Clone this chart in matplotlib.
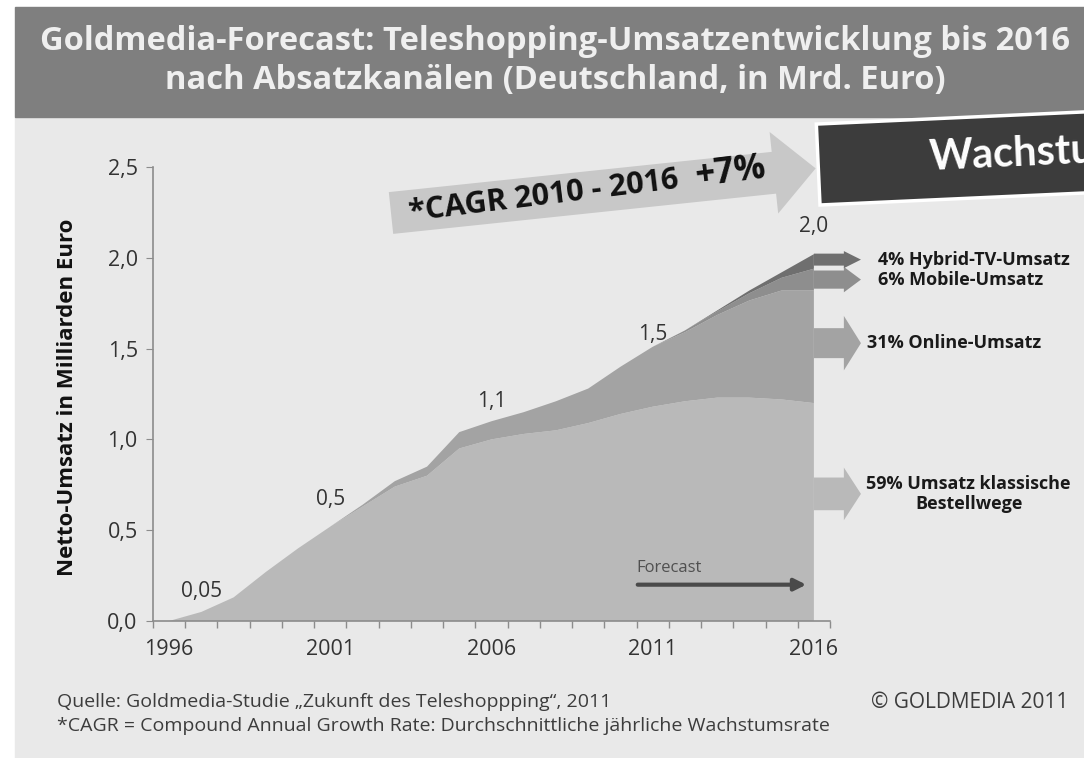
import matplotlib
matplotlib.use("Agg")
import matplotlib.pyplot as plt
from matplotlib.patches import Rectangle, Polygon
import numpy as np

plt.rcParams['font.family'] = ['Open Sans', 'DejaVu Sans']

# Umsatz in Mrd. Euro, gestapelt nach Absatzkanal
years = list(range(1996, 2017))
klassisch = [0.0, 0.05, 0.13, 0.27, 0.40, 0.52, 0.63, 0.74, 0.80, 0.95, 1.00,
             1.03, 1.05, 1.09, 1.14, 1.18, 1.21, 1.23, 1.23, 1.22, 1.20]
online = [0.0, 0.0, 0.0, 0.0, 0.0, 0.0, 0.01, 0.03, 0.05, 0.09, 0.10,
          0.12, 0.16, 0.19, 0.26, 0.33, 0.38, 0.455, 0.535, 0.60, 0.62]
mobile = [0.0, 0.0, 0.0, 0.0, 0.0, 0.0, 0.0, 0.0, 0.0, 0.0, 0.0,
          0.0, 0.0, 0.0, 0.0, 0.0, 0.01, 0.02, 0.04, 0.07, 0.12]
hybrid = [0.0, 0.0, 0.0, 0.0, 0.0, 0.0, 0.0, 0.0, 0.0, 0.0, 0.0,
          0.0, 0.0, 0.0, 0.0, 0.0, 0.0, 0.005, 0.015, 0.03, 0.08]
layer_colors = ["#b9b9b9", "#a3a3a3", "#8e8e8e", "#6f6f6f"]

value_label_years = [1997, 2001, 2006, 2011, 2016]
value_label_texts = ["0,05", "0,5", "1,1", "1,5", "2,0"]
value_label_lift = [0.11, 0.15, 0.11, 0.07, 0.15]

share_texts = ["59% Umsatz klassische\nBestellwege", "31% Online-Umsatz",
               "6% Mobile-Umsatz", "4% Hybrid-TV-Umsatz"]
share_arrow_y = [0.70, 1.53, 1.88, 1.99]
share_shaft = [0.18, 0.165, 0.10, 0.066]
share_head = [0.29, 0.30, 0.14, 0.094]
share_text_x = [2020.8, 2017.65, 2017.98, 2017.98]
share_text_ha = ["center", "left", "left", "left"]

fig = plt.figure(figsize=(10.84, 7.58), dpi=100)
fig.patch.set_facecolor("white")

# background layer in pixel coordinates
bg = fig.add_axes([0, 0, 1, 1], zorder=0)
bg.set_xlim(0, 1084)
bg.set_ylim(758, 0)
bg.axis("off")
bg.add_patch(Rectangle((15, 117), 1069, 641, color="#e9e9e9"))
bg.add_patch(Rectangle((15, 7), 1069, 110, color="#7f7f7f"))

# main chart
ax = fig.add_axes([153 / 1084, 1 - 621 / 758, 677 / 1084, 454 / 758], zorder=1)
ax.patch.set_alpha(0)
ax.stackplot(years, klassisch, online, mobile, hybrid, colors=layer_colors, linewidth=0)
ax.set_xlim(1995.5, 2016.5)
ax.set_ylim(0, 2.5)
for s in ["top", "right"]:
    ax.spines[s].set_visible(False)
for s in ["left", "bottom"]:
    ax.spines[s].set_color("#8c8c8c")
    ax.spines[s].set_linewidth(1.2)

yt = np.arange(0, 2.51, 0.5)
ax.set_yticks(yt)
ax.set_yticklabels([f"{v:.1f}".replace(".", ",") for v in yt])
ax.set_xticks([1996, 2001, 2006, 2011, 2016])
ax.set_xticks(np.arange(1995.5, 2017, 1), minor=True)
ax.tick_params(axis="x", which="major", length=0, pad=13, labelsize=15.5, labelcolor="#333333")
ax.tick_params(axis="x", which="minor", length=5, color="#8c8c8c", width=1)
ax.tick_params(axis="y", length=5, color="#8c8c8c", pad=6, labelsize=15.5, labelcolor="#333333")

totals = [k + o + m + h for k, o, m, h in zip(klassisch, online, mobile, hybrid)]
for yr, txt, lift in zip(value_label_years, value_label_texts, value_label_lift):
    ax.text(yr, totals[years.index(yr)] + lift, txt, ha="center", va="center",
            fontsize=15, color="#333333")

# arrows to the shares at the right edge
for yc, sw, hw, txt, tx, ha, col in zip(share_arrow_y, share_shaft, share_head,
                                        share_texts, share_text_x, share_text_ha, layer_colors):
    ax.arrow(2016.0, yc, 1.46, 0, width=sw, head_width=hw, head_length=0.53,
             length_includes_head=True, color=col, linewidth=0, clip_on=False)
    ax.text(tx, yc, txt, ha=ha, va="center", fontsize=13, fontweight="bold",
            color="#1a1a1a", clip_on=False, linespacing=1.1)

ax.annotate("", xy=(2015.85, 0.20), xytext=(2010.45, 0.20),
            arrowprops=dict(arrowstyle="-|>,head_length=0.7,head_width=0.35",
                            color="#4a4a4a", lw=3))
ax.text(2010.5, 0.29, "Forecast", ha="left", va="center", fontsize=12, color="#505050")

# foreground decorations in pixel coordinates
fg = fig.add_axes([0, 0, 1, 1], zorder=2)
fg.set_xlim(0, 1084)
fg.set_ylim(758, 0)
fg.axis("off")
fg.patch.set_alpha(0)

fg.text(555, 42, "Goldmedia-Forecast: Teleshopping-Umsatzentwicklung bis 2016",
        ha="center", va="center", fontsize=23.5, fontweight="bold", color="#efefef")
fg.text(555, 81, "nach Absatzkanälen (Deutschland, in Mrd. Euro)",
        ha="center", va="center", fontsize=23.5, fontweight="bold", color="#efefef")

fig.text(68 / 1084, 1 - 397 / 758, "Netto-Umsatz in Milliarden Euro", rotation=90,
         ha="center", va="center", fontsize=16, fontweight="bold", color="#111111")

# CAGR arrow
th = np.deg2rad(6.0)
u = np.array([np.cos(th), -np.sin(th)])
n = np.array([np.sin(th), np.cos(th)])
p0 = np.array([391.0, 213.0])
L, hl, sh, hh = 427, 42, 21, 41
pts = [p0 - n * sh, p0 + u * (L - hl) - n * sh, p0 + u * (L - hl) - n * hh, p0 + u * L,
       p0 + u * (L - hl) + n * hh, p0 + u * (L - hl) + n * sh, p0 + n * sh]
fg.add_patch(Polygon(pts, closed=True, color="#c8c8c8", linewidth=0))
fg.text(410, 221, "*CAGR 2010 - 2016", rotation=7, rotation_mode="anchor",
        ha="left", va="baseline", fontsize=22, fontweight="bold", color="#111111")
fg.text(696, 186, "+7%", rotation=7, rotation_mode="anchor",
        ha="left", va="baseline", fontsize=25, fontweight="bold", color="#111111")

# Wachstum box
a = np.deg2rad(2.6)
bu = np.array([np.cos(a), -np.sin(a)])
bv = np.array([-np.sin(a), -np.cos(a)])
b0 = np.array([820.0, 205.0])
box = [b0, b0 + 400 * bu, b0 + 400 * bu + 81 * bv, b0 + 81 * bv]
fg.add_patch(Polygon(box, closed=True, facecolor="#3c3c3c", edgecolor="white", linewidth=2.5))
fg.text(930, 170, "Wachstum", rotation=2.6, rotation_mode="anchor", ha="left", va="baseline",
        fontsize=30, fontweight="bold", color="white", family=["Lato", "DejaVu Sans"])

# footer
fg.text(57, 702, "Quelle: Goldmedia-Studie „Zukunft des Teleshoppping“, 2011",
        ha="left", va="center", fontsize=14, color="#3c3c3c")
fg.text(57, 726, "*CAGR = Compound Annual Growth Rate: Durchschnittliche jährliche Wachstumsrate",
        ha="left", va="center", fontsize=14, color="#3c3c3c")
fg.text(1068, 702, "© GOLDMEDIA 2011", ha="right", va="center", fontsize=15, color="#3c3c3c")

fig.savefig("out.png", dpi=100)
